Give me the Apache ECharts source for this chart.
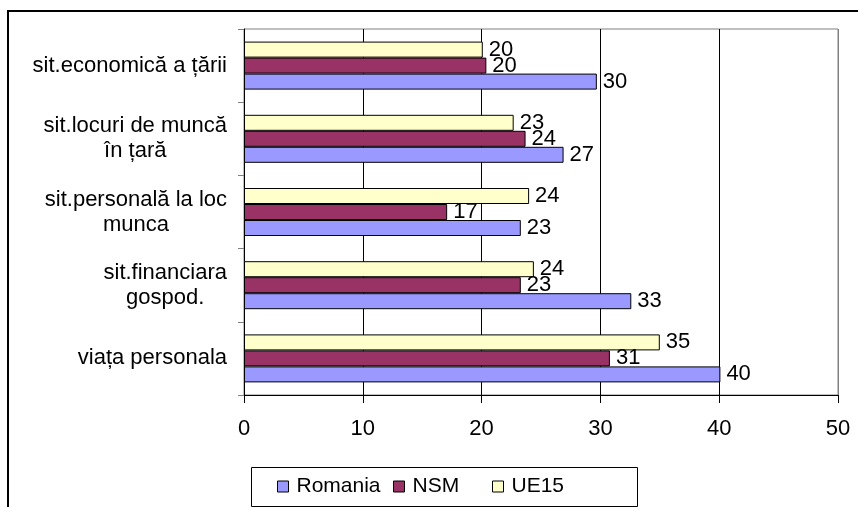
<!DOCTYPE html>
<html>
<head>
<meta charset="utf-8">
<script src="https://cdn.jsdelivr.net/npm/echarts@6/dist/echarts.min.js"></script>
<style>
    html, body { margin: 0; padding: 0; background: #fff; }
    #chart { width: 858px; height: 507px; }
</style>
</head>
<body>
<div id="chart"></div>
<script type="application/javascript">
    // categories listed bottom -> top (category axis grows upward)
    var categories = [
        'viața personala',
        'sit.financiara\ngospod.',
        'sit.personală la loc\nmunca',
        'sit.locuri de muncă\nîn țară',
        'sit.economică a țării'
    ];
    var romania = [40.1, 32.6, 23.3, 26.9, 29.7];
    var nsm = [30.8, 23.3, 17.1, 23.7, 20.4];
    var ue15 = [35.0, 24.4, 24.0, 22.7, 20.1];
    var xTicks = [0, 10, 20, 30, 40, 50];

    var font = '"Liberation Sans", Arial, sans-serif';
    var chart = echarts.init(document.getElementById('chart'));

    function barSeries (name, data, color) {
        return {
            name: name,
            type: 'bar',
            data: data,
            barWidth: 16,
            barGap: '0%',
            itemStyle: { color: color, borderColor: '#000', borderWidth: 1 },
            label: {
                show: true,
                position: 'right',
                distance: 6,
                color: '#000',
                fontFamily: font,
                fontSize: 22,
                formatter: function (p) { return Math.round(p.value); }
            }
        };
    }

    function legendAt (name, left) {
        return {
            data: [name],
            left: left,
            top: 476,
            padding: 0,
            icon: 'rect',
            itemWidth: 11,
            itemHeight: 11,
            itemStyle: { borderColor: '#000', borderWidth: 1 },
            textStyle: { color: '#000', fontFamily: font, fontSize: 21, padding: [0, 0, 0, 3] }
        };
    }

    var option = {
        animation: false,
        backgroundColor: '#fff',
        grid: {
            left: 244, top: 29, width: 594, height: 366,
            show: true, borderColor: '#808080', borderWidth: 1
        },
        xAxis: {
            type: 'value',
            min: xTicks[0],
            max: xTicks[xTicks.length - 1],
            interval: 10,
            axisLine: { show: true, lineStyle: { color: '#000' } },
            axisTick: { show: true, length: 8, lineStyle: { color: '#000' } },
            axisLabel: { color: '#000', fontFamily: font, fontSize: 22, margin: 23 },
            splitLine: {
                show: true,
                lineStyle: { color: ['#000', '#000', '#000', '#000', '#000', '#808080'] }
            }
        },
        yAxis: {
            type: 'category',
            data: categories,
            axisLine: { show: true, lineStyle: { color: '#000' } },
            axisTick: { show: true, length: 6, lineStyle: { color: '#808080' } },
            axisLabel: {
                color: '#000',
                fontFamily: font,
                fontSize: 22,
                lineHeight: 25,
                margin: 17,
                formatter: function (v) {
                    return v.split('\n').map(function (s) { return '{c|' + s + '}'; }).join('\n');
                },
                rich: { c: { align: 'center', fontFamily: font, fontSize: 22, lineHeight: 25, color: '#000' } }
            },
            splitLine: { show: false }
        },
        legend: [
            legendAt('Romania', 277),
            legendAt('NSM', 393),
            legendAt('UE15', 492)
        ],
        graphic: [
            {
                type: 'rect',
                shape: { x: 8, y: 11, width: 1000, height: 1000 },
                style: { fill: null, stroke: '#000', lineWidth: 2 },
                silent: true
            },
            {
                type: 'rect',
                shape: { x: 251.5, y: 467.5, width: 386, height: 39 },
                style: { fill: null, stroke: '#000', lineWidth: 1 },
                silent: true
            }
        ],
        // first series is drawn at the top of each group
        series: [
            barSeries('UE15', ue15, '#FFFFCC'),
            barSeries('NSM', nsm, '#993366'),
            barSeries('Romania', romania, '#9999FF')
        ]
    };
    chart.setOption(option);
</script>
</body>
</html>
